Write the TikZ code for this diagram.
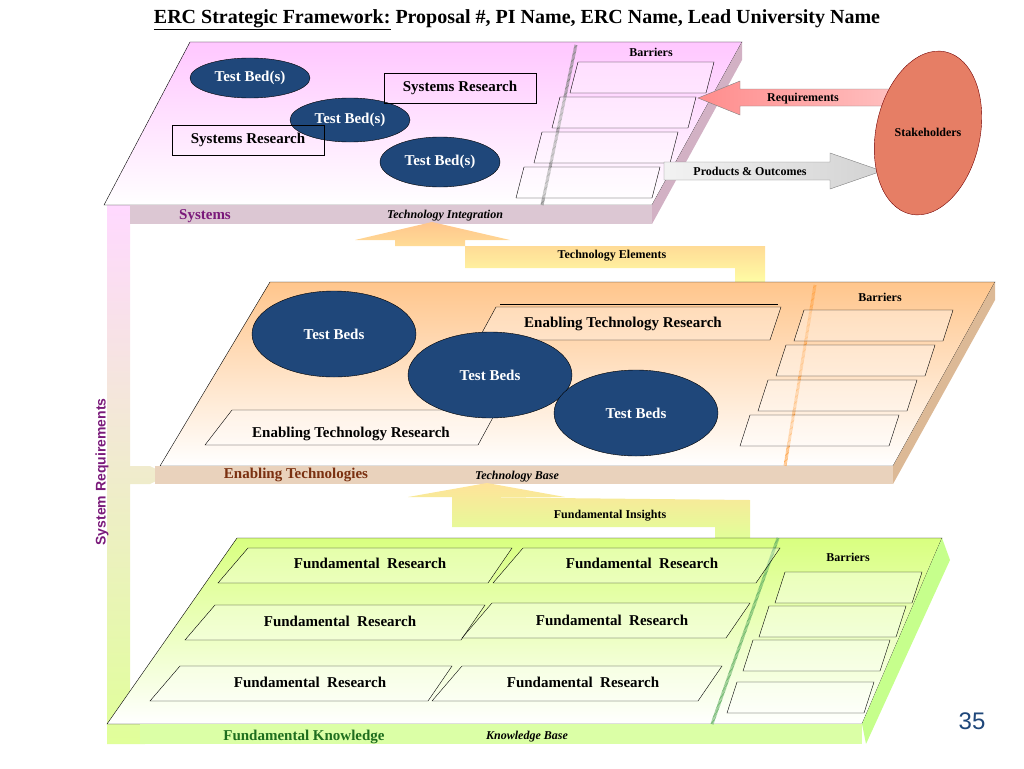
\documentclass[tikz,border=0pt]{standalone}
\usepackage{fontspec}
\setmainfont{Liberation Serif}
\setsansfont{Liberation Sans}
\usetikzlibrary{shapes.geometric,positioning}
\definecolor{bedblue}{HTML}{1F477A}
\definecolor{sysviolet}{HTML}{7A1A7A}
\definecolor{enbrown}{HTML}{7A3010}
\definecolor{fkgreen}{HTML}{1E6E1E}
\tikzset{
  bed/.style={ellipse,draw=black,fill=bedblue,text=white,font=\fontsize{15}{17}\selectfont\bfseries,inner sep=0pt},
  bar/.style={draw=black,fill=white,fill opacity=0.35},
  para/.style={draw=black,fill=white,fill opacity=0.3},
  txt/.style={font=\fontsize{15}{17}\selectfont\bfseries},
  small/.style={font=\fontsize{12}{14}\selectfont\bfseries},
  hatch/.style={draw=gray,line width=3pt,dash pattern=on 0.6pt off 0.6pt}
}
\begin{document}
\begin{tikzpicture}[x=1pt,y=-1pt]
\useasboundingbox (0,0) rectangle (1024,768);
% title
\node[font=\fontsize{20}{24}\selectfont\bfseries] (title) at (517,20) {\underline{ERC Strategic Framework:} Proposal \#, PI Name, ERC Name, Lead University Name};
% system requirements bar
\shade[top color=magenta!15,bottom color=green!30!yellow!40] (107,205) -- (130,205) -- (130,466) -- (150,466) -- (168,475) -- (150,484) -- (130,484) -- (130,724) -- (145,724) -- (162,734) -- (145,744) -- (107,744) -- cycle;
\node[font=\fontsize{14}{16}\selectfont\sffamily\bfseries,text=sysviolet,rotate=90] (sysreq) at (102,472) {System Requirements};
% ---- systems level
\shade[top color=magenta!22,bottom color=white] (190,42) -- (742,42) -- (652,205) -- (104,205) -- cycle;
\draw (190,42) -- (742,42) -- (652,205) -- (104,205) -- cycle;
\fill[magenta!25!gray!40] (130,205) rectangle (652,224);
\fill[magenta!30!gray!55] (652,205) -- (742,42) -- (742,60) -- (652,224) -- cycle;
\draw[hatch] (576,45) -- (542,205);
\node[small] (sysbar) at (651,52) {Barriers};
\foreach \y/\dx in {62/0,97/18,132/36,167/54}
  \draw[bar] (578-\dx,\y) -- (714-\dx,\y) -- (706-\dx,\y+31) -- (570-\dx,\y+31) -- cycle;
\node[bed,minimum width=120pt,minimum height=40pt] (tbA) at (250,78) {Test Bed(s)};
\node[bed,minimum width=120pt,minimum height=44pt] (tbB) at (350,120) {Test Bed(s)};
\node[bed,minimum width=120pt,minimum height=50pt] (tbC) at (440,162) {Test Bed(s)};
\node[txt,draw=black,minimum width=152pt,minimum height=30pt] (srA) at (460,88) {Systems Research};
\node[txt,draw=black,minimum width=152pt,minimum height=30pt] (srB) at (248,140) {Systems Research};
\node[font=\fontsize{15}{17}\selectfont\bfseries,text=sysviolet] (syslab) at (205,216) {Systems};
\node[font=\fontsize{12}{14}\selectfont\bfseries\itshape] (tint) at (445,216) {Technology Integration};
% requirements / products arrows
\shade[left color=red!45,right color=red!25,draw=gray] (892,89) -- (740,89) -- (740,81) -- (698,98) -- (740,115) -- (740,106) -- (892,106) -- cycle;
\node[small] (req) at (803,99) {Requirements};
\shade[left color=gray!10,right color=gray!35,draw=gray] (664,162) -- (830,162) -- (830,153) -- (882,171) -- (830,189) -- (830,180) -- (664,180) -- cycle;
\node[small] (prod) at (750,171) {Products \& Outcomes};
\node[ellipse,draw=red!45!black,fill=red!45!brown!70!white,minimum width=104pt,minimum height=166pt,rotate=-12,small] (stake) at (928,133) {};
\node[small] (stakel) at (928,132) {Stakeholders};
% technology elements arrow
\shade[top color=orange!45,bottom color=yellow!35] (765,246) -- (765,285) -- (735,285) -- (735,268) -- (465,268) -- (465,240) -- (510,240) -- (432,222) -- (355,240) -- (395,240) -- (395,246) -- cycle;
\node[small] (tel) at (612,256) {Technology Elements};
% ---- enabling level
\shade[top color=orange!45,bottom color=white] (270,282) -- (995,282) -- (893,466) -- (160,466) -- cycle;
\draw (270,282) -- (995,282) -- (893,466) -- (160,466) -- cycle;
\fill[brown!35!white] (155,466) rectangle (893,484);
\fill[brown!55!white] (893,466) -- (995,282) -- (995,300) -- (893,484) -- cycle;
\draw[hatch,draw=orange!70] (815,285) -- (785,466);
\node[small] (enbar) at (880,297) {Barriers};
\foreach \y/\dx in {310/0,345/18,380/36,415/54}
  \draw[bar] (804-\dx,\y) -- (953-\dx,\y) -- (943-\dx,\y+31) -- (794-\dx,\y+31) -- cycle;
\draw[para] (496,307) -- (781,307) -- (770,340) -- (478,340) -- cycle;
\draw (500,304) -- (778,304);
\node[txt] (etrA) at (623,324) {Enabling Technology Research};
\draw[para] (232,410) -- (497,410) -- (478,445) -- (205,445) -- cycle;
\node[txt] (etrB) at (351,434) {Enabling Technology Research};
\node[bed,minimum width=164pt,minimum height=86pt] (tbD) at (334,334) {Test Beds};
\node[bed,minimum width=164pt,minimum height=86pt] (tbE) at (490,375) {Test Beds};
\node[bed,minimum width=164pt,minimum height=86pt] (tbF) at (636,413) {Test Beds};
\node[font=\fontsize{15}{17}\selectfont\bfseries,text=enbrown] (enlab) at (296,475) {Enabling Technologies};
\node[font=\fontsize{12}{14}\selectfont\bfseries\itshape] (tbase) at (517,477) {Technology Base};
% fundamental insights arrow
\shade[top color=yellow!45!orange!40,bottom color=green!30!yellow!40] (750,500) -- (750,540) -- (715,540) -- (715,527) -- (452,527) -- (452,497) -- (565,497) -- (487,483) -- (408,497) -- (452,497) -- cycle;
\node[small] (fins) at (610,516) {Fundamental Insights};
% ---- fundamental level
\shade[top color=green!30!yellow!50,bottom color=white] (237,538) -- (942,538) -- (862,724) -- (107,724) -- cycle;
\draw (237,538) -- (942,538) -- (862,724) -- (107,724) -- cycle;
\fill[green!40!yellow!35!white] (140,724) rectangle (862,744);
\fill[green!50!yellow!45!white] (862,724) -- (942,538) -- (950,560) -- (866,744) -- cycle;
\draw[hatch,draw=green!50!black!60] (778,538) -- (712,724);
\node[small] (fkbar) at (848,557) {Barriers};
\foreach \y/\dx in {572/0,606/16,640/32,682/48}
  \draw[bar] (785-\dx,\y) -- (922-\dx,\y) -- (912-\dx,\y+31) -- (775-\dx,\y+31) -- cycle;
\foreach \xa/\xb/\y/\n in {248/512/548/a,523/780/548/b,215/485/605/c,492/750/603/d,180/452/666/e,462/722/666/f}
  \draw[para] (\xa,\y) -- (\xb,\y) -- (\xb-24,\y+35) -- (\xa-30,\y+35) -- cycle;
\node[txt] (frA) at (370,563) {Fundamental\ \ Research};
\node[txt] (frB) at (642,563) {Fundamental\ \ Research};
\node[txt] (frC) at (340,621) {Fundamental\ \ Research};
\node[txt] (frD) at (612,620) {Fundamental\ \ Research};
\node[txt] (frE) at (310,682) {Fundamental\ \ Research};
\node[txt] (frF) at (583,682) {Fundamental\ \ Research};
\node[font=\fontsize{15}{17}\selectfont\bfseries,text=fkgreen] (fklab) at (304,737) {Fundamental Knowledge};
\node[font=\fontsize{12}{14}\selectfont\bfseries\itshape] (kbase) at (527,737) {Knowledge Base};
% page number
\node[font=\fontsize{24}{28}\selectfont\sffamily,text=bedblue] (pg) at (972,721) {35};
\end{tikzpicture}
\end{document}
